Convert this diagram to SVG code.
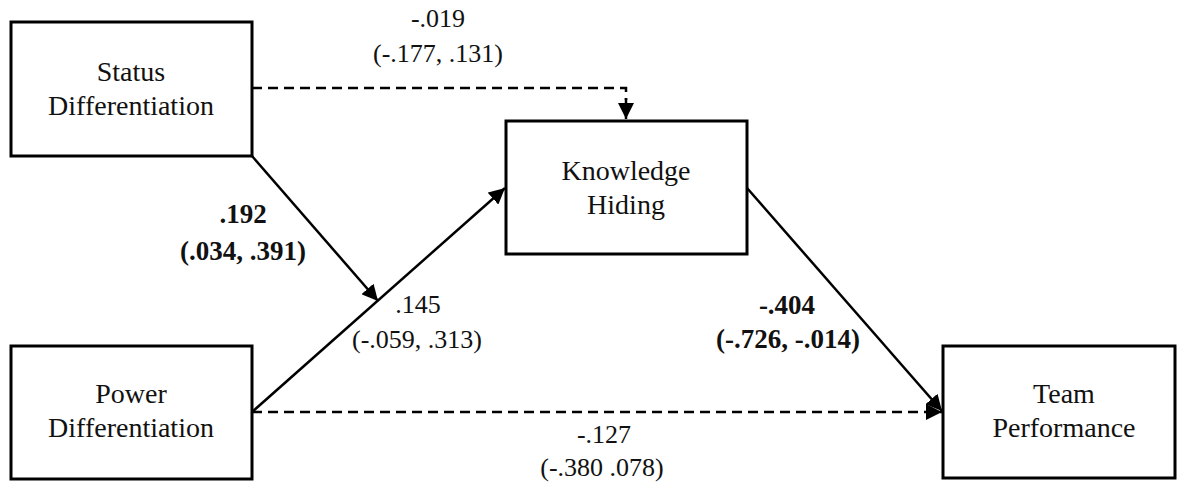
<svg xmlns="http://www.w3.org/2000/svg" width="1177" height="490" viewBox="0 0 1177 490">
<style>
.box{fill:#fff;stroke:#000;stroke-width:3}
.nt{font-family:"Liberation Serif","Times New Roman",serif;font-size:28px;fill:#111;text-anchor:middle}
.lb{font-family:"Liberation Serif","Times New Roman",serif;font-size:26px;fill:#111;text-anchor:middle}
.lbb{font-family:"Liberation Serif","Times New Roman",serif;font-size:27px;font-weight:bold;fill:#111;text-anchor:middle}
.ln{fill:none;stroke:#000;stroke-width:2.5}
.dash{stroke-dasharray:10 6}
</style>
<defs>
<marker id="ah" markerWidth="17" markerHeight="16" refX="16" refY="8" orient="auto" markerUnits="userSpaceOnUse">
<path d="M0,0 L16,8 L0,16 z" fill="#000"/>
</marker>
</defs>
<rect width="1177" height="490" fill="#fff"/>
<g id="connectors">
<path class="ln dash" d="M252,88 H626 V100"/>
<path class="ln" d="M626,98 V119" marker-end="url(#ah)"/>
<path class="ln" d="M252,156 L378,301" marker-end="url(#ah)"/>
<path class="ln" d="M252,412 L505,188" marker-end="url(#ah)"/>
<path class="ln dash" d="M252,412 H942" marker-end="url(#ah)"/>
<path class="ln" d="M747,188 L942,411" marker-end="url(#ah)"/>
</g>
<g id="labels">
<text class="lb" x="438" y="27">-.019</text>
<text class="lb" x="438" y="62">(-.177, .131)</text>
<text class="lbb" x="243" y="223">.192</text>
<text class="lbb" x="243" y="260">(.034, .391)</text>
<text class="lb" x="418" y="313">.145</text>
<text class="lb" x="417" y="348">(-.059, .313)</text>
<text class="lbb" x="787" y="314">-.404</text>
<text class="lbb" x="788" y="348">(-.726, -.014)</text>
<text class="lb" x="604" y="443">-.127</text>
<text class="lb" x="602" y="476">(-.380 .078)</text>
</g>
<g id="status">
<rect class="box" x="11" y="22" width="241" height="134"/>
<text class="nt" x="131" y="81">Status</text>
<text class="nt" x="131" y="115">Differentiation</text>
</g>
<g id="power">
<rect class="box" x="11" y="346" width="241" height="133"/>
<text class="nt" x="131" y="403">Power</text>
<text class="nt" x="131" y="437">Differentiation</text>
</g>
<g id="knowledge">
<rect class="box" x="506" y="121" width="241" height="133"/>
<text class="nt" x="626" y="180">Knowledge</text>
<text class="nt" x="626" y="214">Hiding</text>
</g>
<g id="team">
<rect class="box" x="943" y="346" width="232" height="132"/>
<text class="nt" x="1064" y="403">Team</text>
<text class="nt" x="1064" y="437">Performance</text>
</g>
</svg>
